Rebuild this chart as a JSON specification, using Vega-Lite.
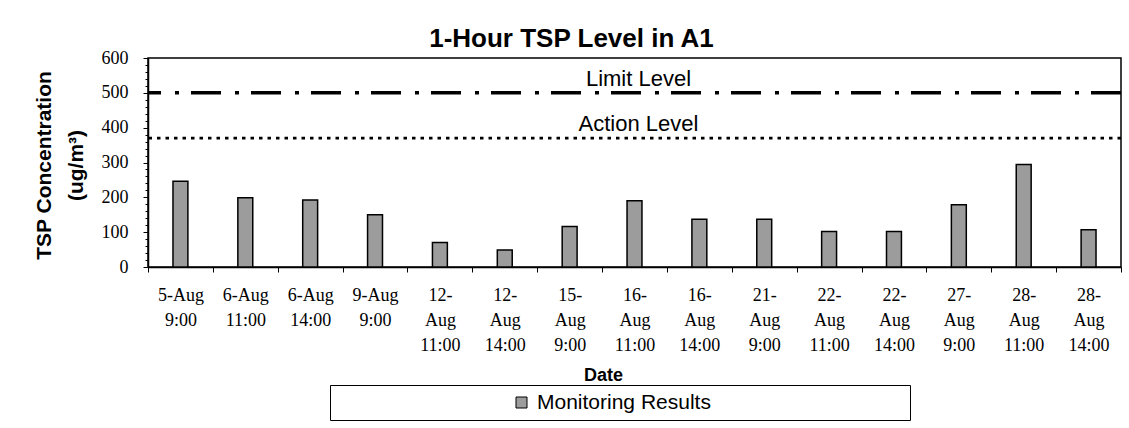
{
  "$schema": "https://vega.github.io/schema/vega-lite/v6.json",
  "width": 973,
  "height": 209,
  "autosize": {"type": "none"},
  "padding": {"left": 148, "top": 58, "right": 8, "bottom": 161},
  "background": "white",
  "config": {
    "view": {"stroke": "black", "strokeWidth": 1.5},
    "font": "Liberation Sans"
  },
  "title": {
    "text": "1-Hour TSP Level in A1",
    "font": "Liberation Sans",
    "fontSize": 26,
    "fontWeight": "bold",
    "color": "black",
    "anchor": "middle",
    "frame": "group",
    "dx": -63,
    "offset": -3
  },
  "datasets": {
    "bars": [
      {"date": "5-Aug|9:00", "value": 246},
      {"date": "6-Aug|11:00", "value": 199},
      {"date": "6-Aug|14:00", "value": 192},
      {"date": "9-Aug|9:00", "value": 150},
      {"date": "12-|Aug|11:00", "value": 70},
      {"date": "12-|Aug|14:00", "value": 49},
      {"date": "15-|Aug|9:00", "value": 116},
      {"date": "16-|Aug|11:00", "value": 190},
      {"date": "16-|Aug|14:00", "value": 137},
      {"date": "21-|Aug|9:00", "value": 137},
      {"date": "22-|Aug|11:00", "value": 102},
      {"date": "22-|Aug|14:00", "value": 102},
      {"date": "27-|Aug|9:00", "value": 179},
      {"date": "28-|Aug|11:00", "value": 294},
      {"date": "28-|Aug|14:00", "value": 107}
    ],
    "levels": [
      {"level": "Limit Level", "value": 500},
      {"level": "Action Level", "value": 370}
    ]
  },
  "layer": [
    {
      "data": {"name": "bars"},
      "mark": {"type": "bar", "width": {"band": 0.23}, "stroke": "black", "strokeWidth": 1.5},
      "encoding": {
        "x": {
          "field": "date",
          "type": "nominal",
          "sort": null,
          "scale": {"paddingInner": 0, "paddingOuter": 0},
          "axis": {
            "title": "Date",
            "titleFont": "Liberation Sans",
            "titleFontSize": 18,
            "titleFontWeight": "bold",
            "titleColor": "black",
            "titleX": 455,
            "titleY": 113,
            "titleBaseline": "alphabetic",
            "labelExpr": "isString(datum.value) ? split(datum.value, '|') : ''",
            "labelAngle": 0,
            "labelFont": "Liberation Serif",
            "labelFontSize": 18,
            "labelColor": "black",
            "labelLineHeight": 25,
            "labelBaseline": "top",
            "labelPadding": 14,
            "labelOverlap": false,
            "labelBound": false,
            "labelLimit": 200,
            "tickBand": "extent",
            "tickSize": 5,
            "tickColor": "black",
            "domainColor": "black",
            "domainWidth": 1.5,
            "grid": false
          }
        },
        "y": {
          "field": "value",
          "type": "quantitative",
          "scale": {"domain": [0, 600], "nice": false},
          "axis": {
            "values": [0, 100, 200, 300, 400, 500, 600],
            "title": ["TSP Concentration", "(ug/m³)"],
            "titleFont": "Liberation Sans",
            "titleFontSize": 21,
            "titleFontWeight": "bold",
            "titleColor": "black",
            "titleLineHeight": 32,
            "titleX": -94,
            "titleY": 107,
            "titleBaseline": "bottom",
            "labelFont": "Liberation Serif",
            "labelFontSize": 18,
            "labelColor": "black",
            "labelPadding": 15,
            "tickSize": 5,
            "tickColor": "black",
            "domainColor": "black",
            "domainWidth": 1.5,
            "grid": false
          }
        },
        "fill": {
          "datum": "Monitoring Results",
          "type": "nominal",
          "scale": {"range": ["#9c9c9c"]},
          "legend": {
            "orient": "none",
            "legendX": 182,
            "legendY": 327,
            "title": null,
            "direction": "horizontal",
            "symbolType": "M-1,-1H1V1H-1ZM69,0",
            "symbolSize": 121,
            "symbolStrokeColor": "black",
            "symbolStrokeWidth": 1,
            "symbolOffset": 174,
            "labelFont": "Liberation Sans",
            "labelFontSize": 21,
            "labelColor": "black",
            "labelOffset": 5,
            "labelLimit": 1000,
            "strokeColor": "black",
            "padding": 7
          }
        }
      }
    },
    {
      "data": {"name": "levels"},
      "transform": [{"filter": "datum.level == 'Limit Level'"}],
      "mark": {"type": "rule", "stroke": "black", "strokeWidth": 3.5, "strokeDash": [30, 12, 4, 14]},
      "encoding": {
        "y": {
          "field": "value",
          "type": "quantitative",
          "axis": {
            "orient": "left",
            "values": [20, 40, 60, 80, 120, 140, 160, 180, 220, 240, 260, 280, 320, 340, 360, 380, 420, 440, 460, 480, 520, 540, 560, 580],
            "labels": false,
            "domain": false,
            "grid": false,
            "title": null,
            "tickSize": 3,
            "tickColor": "black"
          }
        }
      }
    },
    {
      "data": {"name": "levels"},
      "transform": [{"filter": "datum.level == 'Action Level'"}],
      "mark": {"type": "rule", "stroke": "black", "strokeWidth": 2.7, "strokeDash": [3.5, 5]},
      "encoding": {
        "y": {"field": "value", "type": "quantitative", "axis": null}
      }
    },
    {
      "data": {"name": "levels"},
      "mark": {"type": "text", "font": "Liberation Sans", "fontSize": 22, "color": "black", "baseline": "alphabetic", "align": "center", "dy": -7, "dx": 4},
      "encoding": {
        "y": {"field": "value", "type": "quantitative", "axis": null},
        "text": {"field": "level"}
      }
    }
  ],
  "resolve": {"axis": {"y": "independent"}}
}
